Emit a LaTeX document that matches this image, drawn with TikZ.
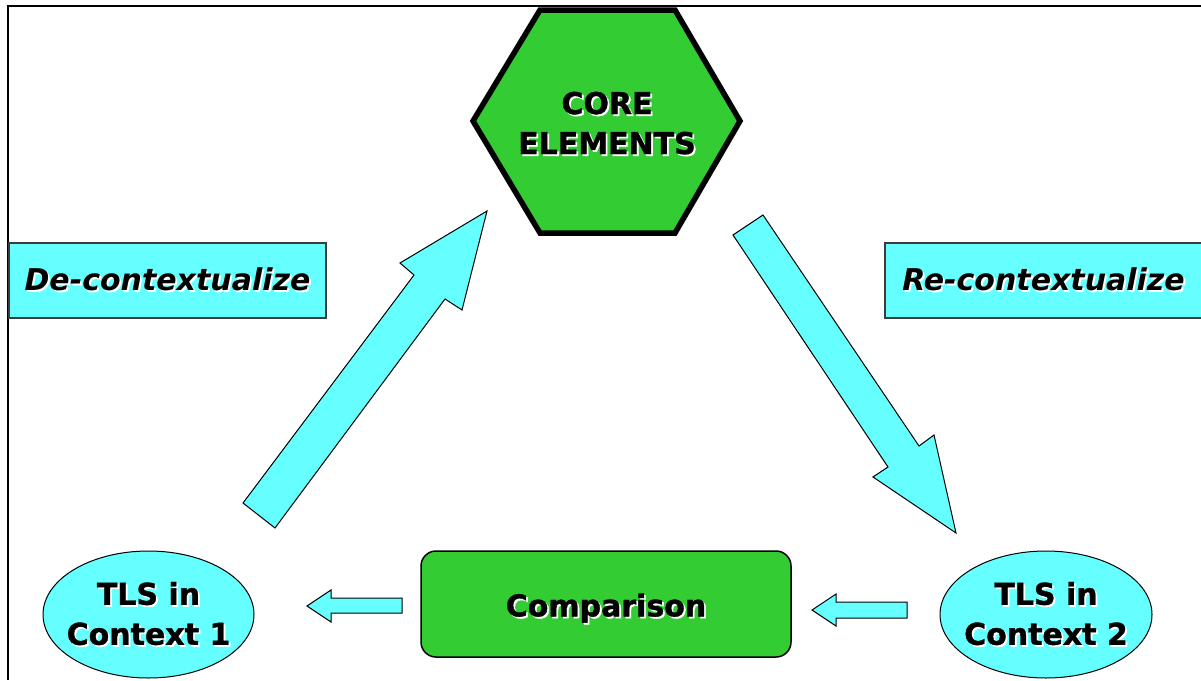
\documentclass[tikz,border=0pt]{standalone}
\usepackage{fontspec}
\setmainfont{DejaVu Sans}[BoldFeatures={FakeBold=1.2}]
\definecolor{hexgreen}{RGB}{51,204,51}
\definecolor{skycyan}{RGB}{102,255,255}
\definecolor{boxedge}{RGB}{60,60,60}
\newcommand\shtxt[1]{\makebox[0pt][l]{\hspace{1.8pt}\raisebox{-1.8pt}{\color{white}#1}}#1}
\tikzset{
  lbl/.style={font=\fontsize{30}{40}\selectfont\bfseries, align=center, inner sep=0pt},
  ctxbox/.style={draw=boxedge, line width=1.5pt, fill=skycyan, minimum width=317pt, minimum height=75pt, inner sep=0pt, font=\fontsize{30}{36}\selectfont\bfseries\itshape},
  tlsshape/.style={draw=black, line width=1pt, fill=skycyan},
  blockarrow/.style={draw=black, line width=1pt, fill=skycyan, line join=miter},
}
\begin{document}
\begin{tikzpicture}[x=1pt,y=-1pt]
\useasboundingbox (0,0) rectangle (1201,680);
% frame
\draw[line width=2pt] (1201,6) -- (8,6) -- (8,680);
% hexagon
\draw[line width=5.5pt, fill=hexgreen, line join=miter] (540,10) -- (675,10) -- (740,121) -- (675,233) -- (540,233) -- (473,121) -- cycle;
\node[lbl] (core) at (607,124) {\shtxt{CORE}\\\shtxt{ELEMENTS}};
% context labels
\node[ctxbox] (decon) at (167.5,280.5) {\shtxt{De-contextualize}};
\node[ctxbox] (recon) at (1043.5,280.5) {\shtxt{Re-contextualize}};
% ellipses
\coordinate (c1) at (148.5,614.5);
\coordinate (c2) at (1046,614.5);
\draw[tlsshape] (c1) ellipse [x radius=105.5, y radius=63.5];
\draw[tlsshape] (c2) ellipse [x radius=106, y radius=63.5];
\node[lbl] (ctx1) at (c1) {\shtxt{TLS in}\\\shtxt{Context 1}};
\node[lbl] (ctx2) at (c2) {\shtxt{TLS in}\\\shtxt{Context 2}};
% comparison
\node[draw=black, line width=1.5pt, fill=hexgreen, rounded corners=15pt, minimum width=370pt, minimum height=106pt, inner sep=0pt] (comp) at (606,604) {};
\node[lbl] (comptxt) at (606,609) {\shtxt{Comparison}};
% big block arrows
\draw[blockarrow] (243,503) -- (414,275) -- (400,263) -- (487,211) -- (462,310) -- (445,299) -- (275,528) -- cycle;
\draw[blockarrow] (733,235) -- (763,215) -- (919,446) -- (934,435) -- (956,533) -- (873,477) -- (888,467) -- cycle;
% small block arrows
\draw[blockarrow] (402,598) -- (331,598) -- (331,590) -- (307,606) -- (331,622) -- (331,613) -- (402,613) -- cycle;
\draw[blockarrow] (907,602) -- (836,602) -- (836,594) -- (812,610) -- (836,626) -- (836,618) -- (907,618) -- cycle;
\end{tikzpicture}
\end{document}
